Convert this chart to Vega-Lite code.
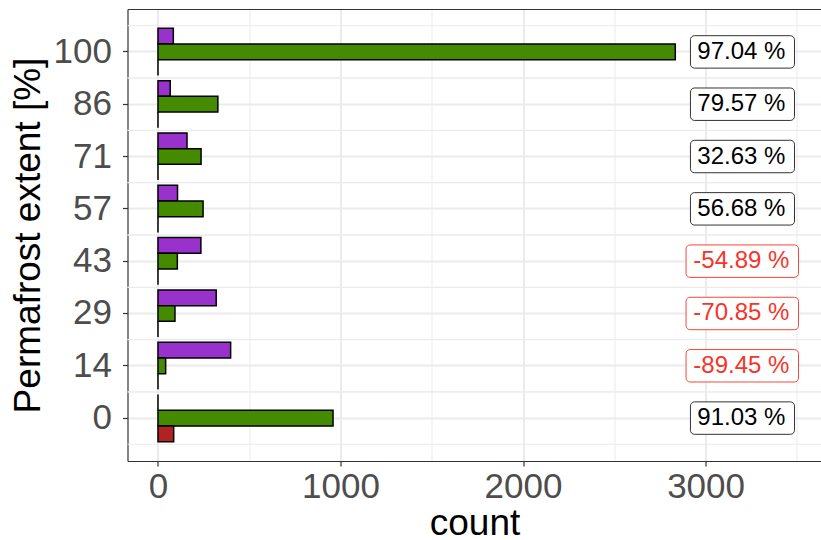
{
  "$schema": "https://vega.github.io/schema/vega-lite/v6.json",
  "width": 694,
  "height": 452,
  "autosize": {"type": "none"},
  "padding": {"left": 127.5, "top": 9, "right": 0, "bottom": 79},
  "config": {"view": {"stroke": null}, "font": "Liberation Sans"},
  "datasets": {
    "counts": [
      {"cat": "100", "group": "purple", "count": 84},
      {"cat": "100", "group": "green", "count": 2834},
      {"cat": "100", "group": "red", "count": 0},
      {"cat": "86", "group": "purple", "count": 67},
      {"cat": "86", "group": "green", "count": 328},
      {"cat": "86", "group": "red", "count": 0},
      {"cat": "71", "group": "purple", "count": 159},
      {"cat": "71", "group": "green", "count": 236},
      {"cat": "71", "group": "red", "count": 0},
      {"cat": "57", "group": "purple", "count": 107},
      {"cat": "57", "group": "green", "count": 247},
      {"cat": "57", "group": "red", "count": 0},
      {"cat": "43", "group": "purple", "count": 235},
      {"cat": "43", "group": "green", "count": 106},
      {"cat": "43", "group": "red", "count": 0},
      {"cat": "29", "group": "purple", "count": 319},
      {"cat": "29", "group": "green", "count": 93},
      {"cat": "29", "group": "red", "count": 0},
      {"cat": "14", "group": "purple", "count": 398},
      {"cat": "14", "group": "green", "count": 42},
      {"cat": "14", "group": "red", "count": 0},
      {"cat": "0", "group": "purple", "count": 0},
      {"cat": "0", "group": "green", "count": 959},
      {"cat": "0", "group": "red", "count": 86}
    ],
    "ratios": [
      {"cat": "100", "ratio": "97.04 %", "sign": "gain"},
      {"cat": "86", "ratio": "79.57 %", "sign": "gain"},
      {"cat": "71", "ratio": "32.63 %", "sign": "gain"},
      {"cat": "57", "ratio": "56.68 %", "sign": "gain"},
      {"cat": "43", "ratio": "-54.89 %", "sign": "loss"},
      {"cat": "29", "ratio": "-70.85 %", "sign": "loss"},
      {"cat": "14", "ratio": "-89.45 %", "sign": "loss"},
      {"cat": "0", "ratio": "91.03 %", "sign": "gain"}
    ]
  },
  "resolve": {"axis": {"x": "independent"}},
  "layer": [
    {
      "data": {"name": "ratios"},
      "mark": {"type": "rule", "color": "#EBEBEB", "strokeWidth": 1},
      "encoding": {
        "y": {"field": "cat", "type": "ordinal", "bandPosition": 0,
              "sort": ["100", "86", "71", "57", "43", "29", "14", "0"], "title": "Permafrost extent [%]"}
      }
    },
    {
      "data": {"name": "ratios"},
      "mark": {"type": "rule", "color": "#EBEBEB", "strokeWidth": 1},
      "encoding": {
        "y": {"field": "cat", "type": "ordinal", "bandPosition": 1,
              "sort": ["100", "86", "71", "57", "43", "29", "14", "0"], "title": "Permafrost extent [%]"}
      }
    },
    {
      "data": {"name": "counts"},
      "mark": {"type": "bar", "stroke": "black", "strokeWidth": 1.5},
      "encoding": {
        "y": {
          "field": "cat", "type": "ordinal",
          "sort": ["100", "86", "71", "57", "43", "29", "14", "0"],
          "scale": {"paddingInner": 0, "paddingOuter": 0.32},
          "title": "Permafrost extent [%]",
          "axis": {
            "bandPosition": 0.5, "grid": true, "gridColor": "#EBEBEB", "gridWidth": 2,
            "labelFontSize": 35, "labelColor": "#4D4D4D", "labelPadding": 11,
            "tickColor": "#333333", "tickSize": 5, "tickWidth": 1.2,
            "domainColor": "#333333", "domainWidth": 1.2,
            "titleFontSize": 37, "titleFontWeight": "normal", "titleColor": "black",
            "titlePadding": 6
          }
        },
        "yOffset": {
          "field": "group", "sort": ["purple", "green", "red"],
          "scale": {"paddingInner": 0, "paddingOuter": 0.167}
        },
        "x": {
          "field": "count", "type": "quantitative", "stack": null,
          "scale": {"domain": [-167, 3635], "nice": false, "zero": false},
          "title": "count",
          "axis": {
            "values": [0, 500, 1000, 1500, 2000, 2500, 3000, 3500],
            "format": "d",
            "labelExpr": "datum.value % 1000 === 0 ? datum.label : ''",
            "tickOpacity": {"condition": {"test": "datum.value % 1000 === 0", "value": 1}, "value": 0},
            "gridWidth": {"condition": {"test": "datum.value % 1000 === 0", "value": 2}, "value": 1},
            "gridColor": "#EBEBEB",
            "labelFontSize": 35, "labelColor": "#4D4D4D", "labelPadding": 3,
            "tickColor": "#333333", "tickSize": 5, "tickWidth": 1.2,
            "domainColor": "#333333", "domainWidth": 1.2,
            "titleFontSize": 37, "titleFontWeight": "normal", "titleColor": "black",
            "titlePadding": 1
          }
        },
        "color": {
          "field": "group",
          "scale": {"domain": ["purple", "green", "red"], "range": ["#9932CC", "#458B00", "#B22222"]},
          "legend": null
        }
      }
    },
    {
      "data": {"name": "ratios"},
      "transform": [{"filter": "datum.sign === 'gain'"}],
      "mark": {"type": "rect", "fill": "white", "stroke": "#333333", "strokeWidth": 1, "cornerRadius": 4, "height": {"band": 0.62}},
      "encoding": {
        "y": {"field": "cat", "type": "ordinal", "sort": ["100", "86", "71", "57", "43", "29", "14", "0"], "title": "Permafrost extent [%]"},
        "x": {"datum": 2917, "type": "quantitative", "axis": null},
        "x2": {"datum": 3487}
      }
    },
    {
      "data": {"name": "ratios"},
      "transform": [{"filter": "datum.sign === 'loss'"}],
      "mark": {"type": "rect", "fill": "white", "stroke": "#F8463A", "strokeWidth": 1, "cornerRadius": 4, "height": {"band": 0.62}},
      "encoding": {
        "y": {"field": "cat", "type": "ordinal", "sort": ["100", "86", "71", "57", "43", "29", "14", "0"], "title": "Permafrost extent [%]"},
        "x": {"datum": 2893, "type": "quantitative", "axis": null},
        "x2": {"datum": 3509}
      }
    },
    {
      "data": {"name": "ratios"},
      "mark": {"type": "text", "fontSize": 24, "align": "center", "baseline": "middle"},
      "encoding": {
        "y": {"field": "cat", "type": "ordinal", "sort": ["100", "86", "71", "57", "43", "29", "14", "0"], "title": "Permafrost extent [%]"},
        "x": {
          "datum": 3196, "type": "quantitative",
          "axis": {"orient": "top", "labels": false, "ticks": false, "grid": false,
                   "domain": true, "domainColor": "#333333", "domainWidth": 1.2, "title": null}
        },
        "text": {"field": "ratio"},
        "color": {"condition": {"test": "datum.sign === 'loss'", "value": "#F5352A"}, "value": "black"}
      }
    }
  ]
}
